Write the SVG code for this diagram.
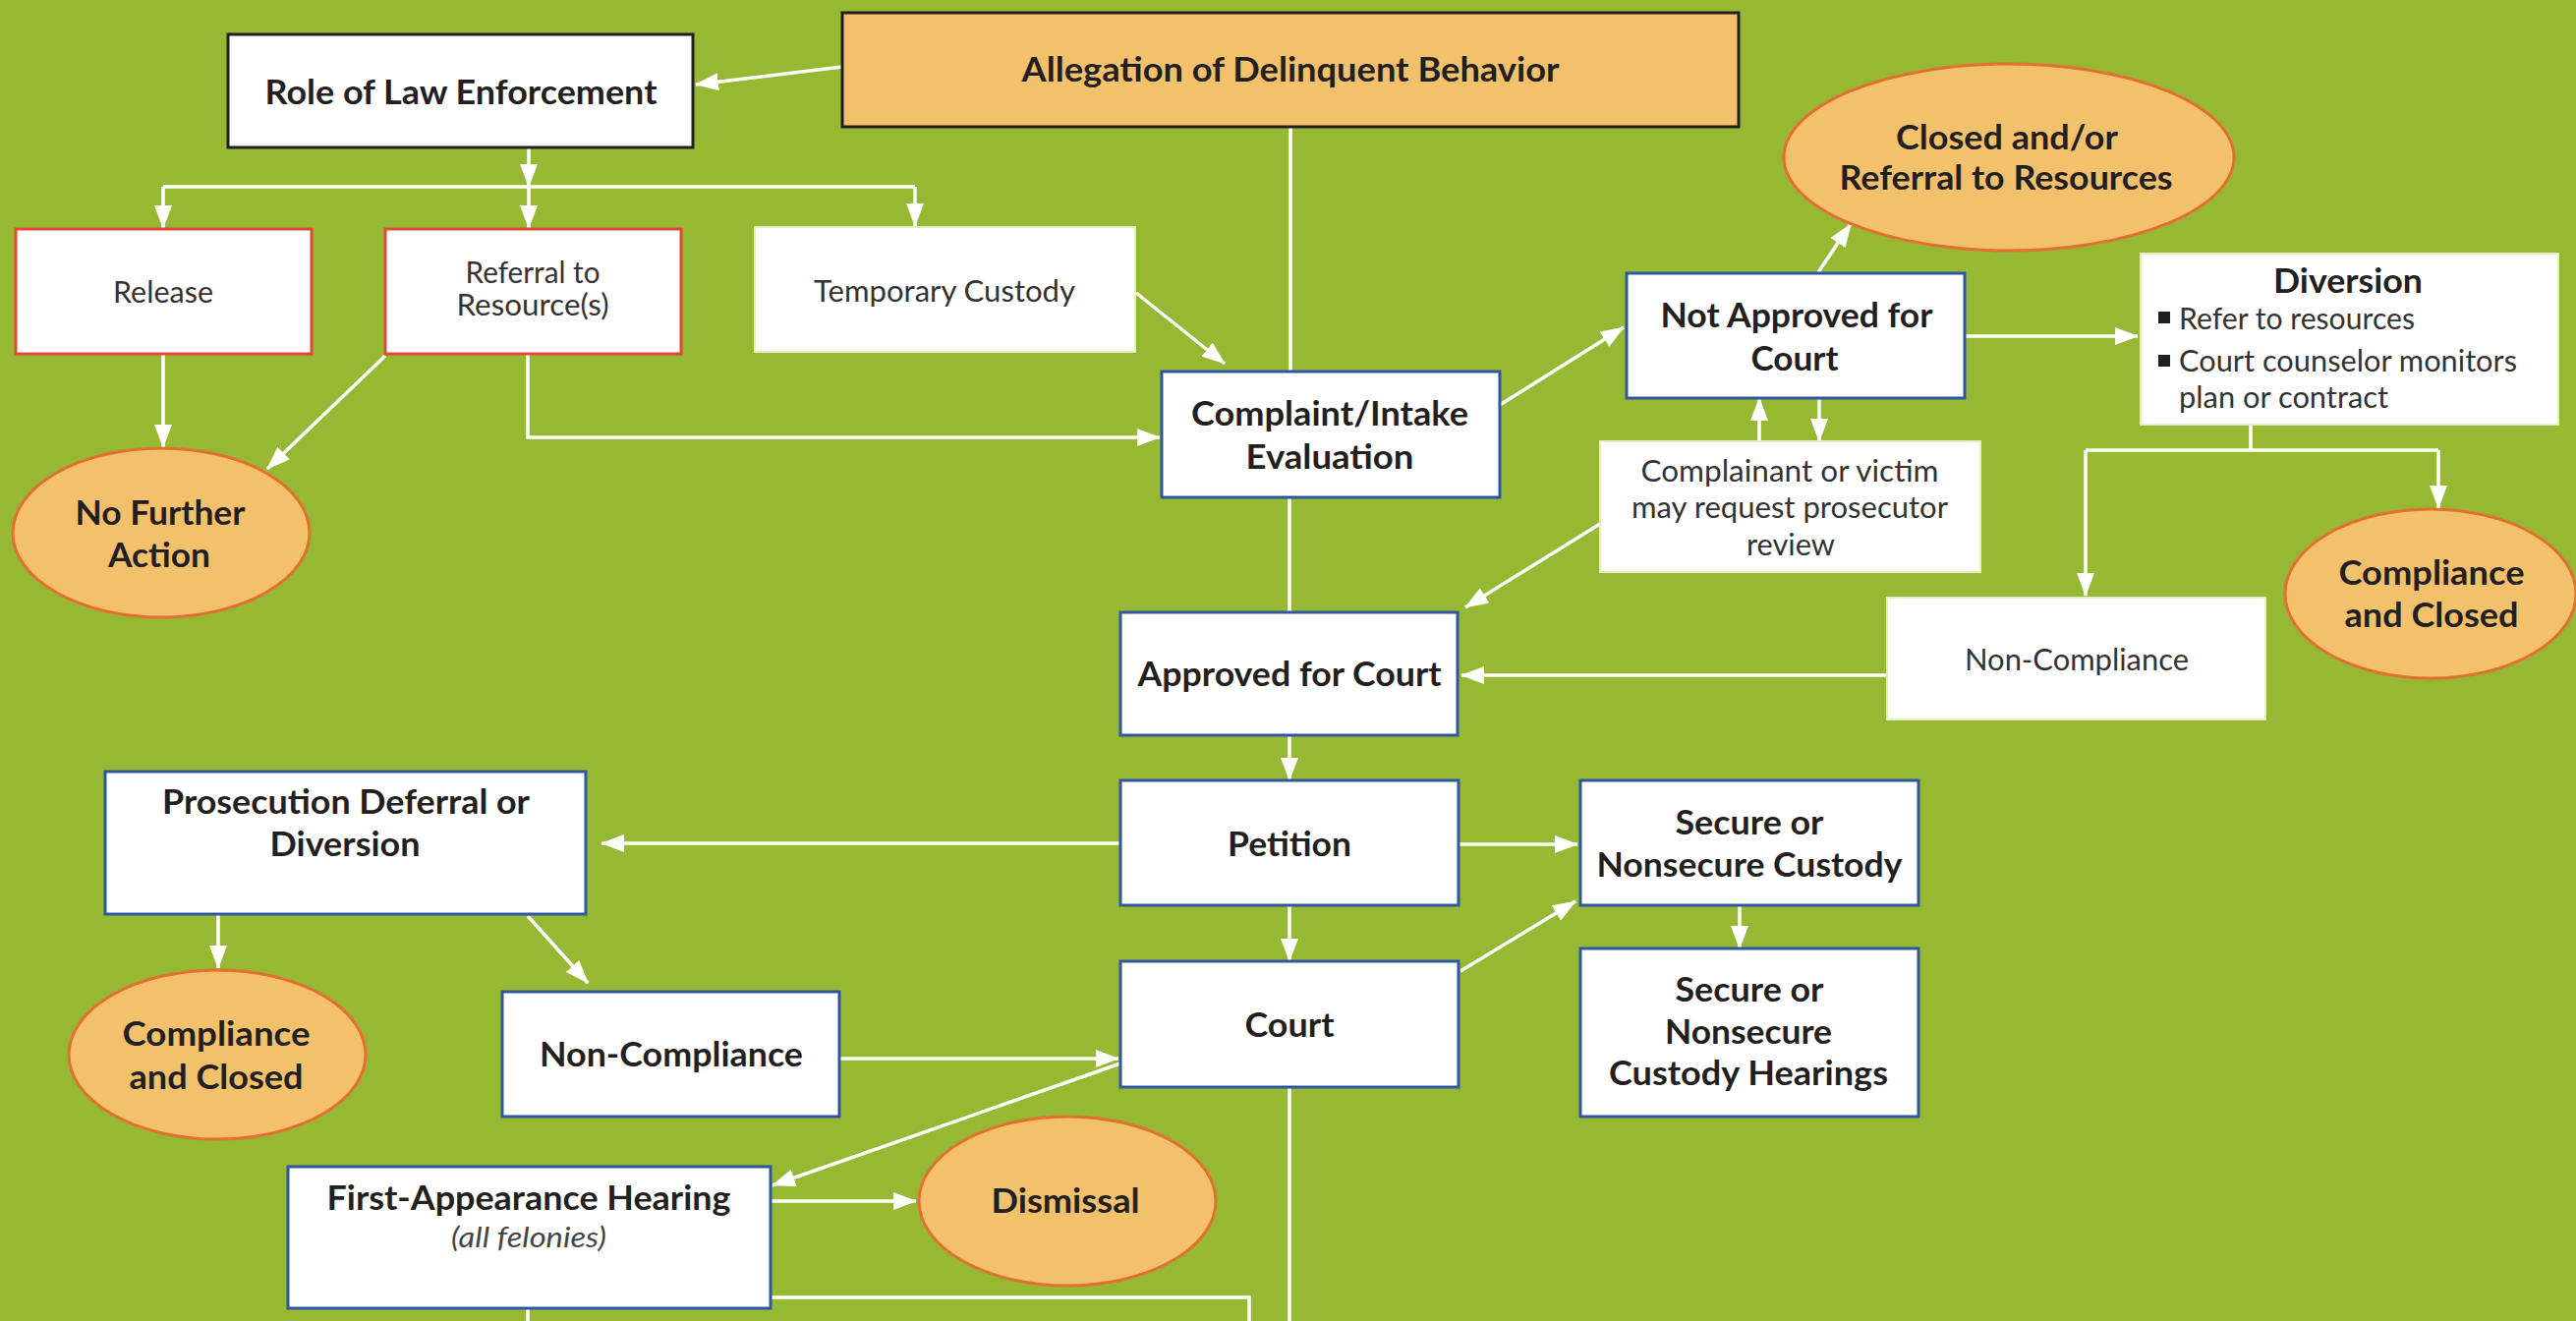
<svg xmlns="http://www.w3.org/2000/svg" width="2621" height="1344" viewBox="0 0 2621 1344">
<style>
.bg{fill:#96b832}
.bdark{fill:#fff;stroke:#231f20;stroke-width:3}
.borg{fill:#f3c06b;stroke:#231f20;stroke-width:3}
.bred{fill:#fff;stroke:#e4473a;stroke-width:3}
.bblue{fill:#fff;stroke:#2f57a0;stroke-width:3}
.bplain{fill:#fff;stroke:#e4eec8;stroke-width:2}
.oval{fill:#f3c06b;stroke:#e2702e;stroke-width:3}
text{font-family:Lato,"Open Sans","Liberation Sans",sans-serif;fill:#231f20;text-anchor:middle}
.tb{font-weight:700;font-size:34px}
.tr{font-weight:400;font-size:31px;fill:#333}
.tl{text-anchor:start}
.ti{font-style:italic;font-size:28px;fill:#444}
.conn{stroke:#fff;stroke-width:3.5;fill:none}
.arr{marker-end:url(#ah)}
</style>
<defs>
<marker id="ah" markerUnits="userSpaceOnUse" markerWidth="24" markerHeight="18" viewBox="0 0 24 18" refX="23" refY="9" orient="auto">
<path d="M0,0 L24,9 L0,18 Z" fill="#fff"/>
</marker>
</defs>
<rect class="bg" x="0" y="0" width="2621" height="1344"/>

<g id="connectors">
<line class="conn arr" x1="857" y1="68" x2="708" y2="86"/>
<line class="conn arr" x1="538" y1="150" x2="538" y2="190"/>
<polyline class="conn" points="166,190 931,190"/>
<line class="conn arr" x1="166" y1="190" x2="166" y2="232"/>
<line class="conn arr" x1="538" y1="190" x2="538" y2="232"/>
<line class="conn arr" x1="931" y1="190" x2="931" y2="230"/>
<line class="conn arr" x1="166" y1="360" x2="166" y2="455"/>
<line class="conn arr" x1="392" y1="362" x2="272" y2="477"/>
<polyline class="conn arr" points="537,360 537,445 1180,445"/>
<line class="conn arr" x1="1156" y1="298" x2="1246" y2="370"/>
<line class="conn" x1="1313" y1="129" x2="1313" y2="378"/>
<line class="conn" x1="1312" y1="506" x2="1312" y2="623"/>
<line class="conn arr" x1="1526" y1="412" x2="1652" y2="333"/>
<line class="conn arr" x1="1850" y1="277" x2="1883" y2="228"/>
<line class="conn arr" x1="1999" y1="342" x2="2175" y2="342"/>
<line class="conn arr" x1="1790" y1="449" x2="1790" y2="405"/>
<line class="conn arr" x1="1851" y1="405" x2="1851" y2="449"/>
<line class="conn arr" x1="1628" y1="533" x2="1491" y2="618"/>
<line class="conn arr" x1="1920" y1="687" x2="1487" y2="687"/>
<line class="conn" x1="2290" y1="432" x2="2290" y2="458"/>
<polyline class="conn" points="2122,458 2481,458"/>
<line class="conn arr" x1="2122" y1="458" x2="2122" y2="606"/>
<line class="conn arr" x1="2481" y1="458" x2="2481" y2="517"/>
<line class="conn arr" x1="1312" y1="748" x2="1312" y2="794"/>
<line class="conn arr" x1="1312" y1="921" x2="1312" y2="978"/>
<line class="conn arr" x1="1484" y1="859" x2="1605" y2="859"/>
<line class="conn arr" x1="1486" y1="988" x2="1603" y2="917"/>
<line class="conn arr" x1="1770" y1="921" x2="1770" y2="965"/>
<line class="conn arr" x1="1140" y1="858" x2="612" y2="858"/>
<line class="conn arr" x1="222" y1="930" x2="222" y2="985"/>
<line class="conn arr" x1="537" y1="932" x2="598" y2="1000"/>
<line class="conn arr" x1="854" y1="1077" x2="1138" y2="1077"/>
<line class="conn arr" x1="1140" y1="1082" x2="786" y2="1206"/>
<line class="conn arr" x1="784" y1="1222" x2="932" y2="1222"/>
<polyline class="conn" points="784,1320 1271,1320 1271,1344"/>
<line class="conn" x1="537" y1="1331" x2="537" y2="1344"/>
<line class="conn" x1="1312" y1="1106" x2="1312" y2="1344"/>
</g>

<g id="allegation">
<rect class="borg" x="857" y="13" width="912" height="116"/>
<text class="tb" x="1313" y="83" textLength="547" lengthAdjust="spacingAndGlyphs">Allegation of Delinquent Behavior</text>
</g>
<g id="role-law-enforcement">
<rect class="bdark" x="232" y="35" width="473" height="115"/>
<text class="tb" x="469" y="106" textLength="399" lengthAdjust="spacingAndGlyphs">Role of Law Enforcement</text>
</g>
<g id="release">
<rect class="bred" x="16" y="233" width="301" height="127"/>
<text class="tr" x="166" y="308" textLength="102" lengthAdjust="spacingAndGlyphs">Release</text>
</g>
<g id="referral-resources">
<rect class="bred" x="392" y="233" width="301" height="127"/>
<text class="tr" x="542" y="288" textLength="137" lengthAdjust="spacingAndGlyphs">Referral to</text>
<text class="tr" x="542" y="321" textLength="155" lengthAdjust="spacingAndGlyphs">Resource(s)</text>
</g>
<g id="temporary-custody">
<rect class="bplain" x="768" y="231" width="387" height="127"/>
<text class="tr" x="961" y="307" textLength="266" lengthAdjust="spacingAndGlyphs">Temporary Custody</text>
</g>
<g id="no-further-action">
<ellipse class="oval" cx="164" cy="542" rx="151" ry="86"/>
<text class="tb" x="163" y="534" textLength="173" lengthAdjust="spacingAndGlyphs">No Further</text>
<text class="tb" x="162" y="577" textLength="104" lengthAdjust="spacingAndGlyphs">Action</text>
</g>
<g id="complaint-intake">
<rect class="bblue" x="1182" y="378" width="344" height="128"/>
<text class="tb" x="1353" y="433" textLength="282" lengthAdjust="spacingAndGlyphs">Complaint/Intake</text>
<text class="tb" x="1353" y="477" textLength="171" lengthAdjust="spacingAndGlyphs">Evaluation</text>
</g>
<g id="not-approved">
<rect class="bblue" x="1655" y="278" width="344" height="127"/>
<text class="tb" x="1828" y="333" textLength="277" lengthAdjust="spacingAndGlyphs">Not Approved for</text>
<text class="tb" x="1826" y="377" textLength="89" lengthAdjust="spacingAndGlyphs">Court</text>
</g>
<g id="closed-referral">
<ellipse class="oval" cx="2044" cy="160" rx="229" ry="95"/>
<text class="tb" x="2042" y="152" textLength="226" lengthAdjust="spacingAndGlyphs">Closed and/or</text>
<text class="tb" x="2041" y="193" textLength="339" lengthAdjust="spacingAndGlyphs">Referral to Resources</text>
</g>
<g id="diversion">
<rect class="bplain" x="2178" y="258" width="425" height="174"/>
<text class="tb" x="2389" y="298" textLength="152" lengthAdjust="spacingAndGlyphs">Diversion</text>
<rect x="2196" y="317" width="12" height="12" fill="#231f20"/>
<text class="tr tl" x="2217" y="335" textLength="240" lengthAdjust="spacingAndGlyphs">Refer to resources</text>
<rect x="2196" y="361" width="12" height="12" fill="#231f20"/>
<text class="tr tl" x="2217" y="378" textLength="344" lengthAdjust="spacingAndGlyphs">Court counselor monitors</text>
<text class="tr tl" x="2217" y="415" textLength="213" lengthAdjust="spacingAndGlyphs">plan or contract</text>
</g>
<g id="prosecutor-review">
<rect class="bplain" x="1628" y="449" width="387" height="133"/>
<text class="tr" x="1821" y="490" textLength="303" lengthAdjust="spacingAndGlyphs">Complainant or victim</text>
<text class="tr" x="1821" y="527" textLength="322" lengthAdjust="spacingAndGlyphs">may request prosecutor</text>
<text class="tr" x="1822" y="565" textLength="90" lengthAdjust="spacingAndGlyphs">review</text>
</g>
<g id="approved">
<rect class="bblue" x="1140" y="623" width="343" height="125"/>
<text class="tb" x="1312" y="698" textLength="309" lengthAdjust="spacingAndGlyphs">Approved for Court</text>
</g>
<g id="non-compliance-diversion">
<rect class="bplain" x="1920" y="608" width="385" height="124"/>
<text class="tr" x="2113" y="682" textLength="228" lengthAdjust="spacingAndGlyphs">Non-Compliance</text>
</g>
<g id="compliance-closed-right">
<ellipse class="oval" cx="2473" cy="604" rx="148" ry="86"/>
<text class="tb" x="2474" y="595" textLength="189" lengthAdjust="spacingAndGlyphs">Compliance</text>
<text class="tb" x="2474" y="638" textLength="177" lengthAdjust="spacingAndGlyphs">and Closed</text>
</g>
<g id="petition">
<rect class="bblue" x="1140" y="794" width="344" height="127"/>
<text class="tb" x="1312" y="871" textLength="126" lengthAdjust="spacingAndGlyphs">Petition</text>
</g>
<g id="court">
<rect class="bblue" x="1140" y="978" width="344" height="128"/>
<text class="tb" x="1312" y="1055" textLength="91" lengthAdjust="spacingAndGlyphs">Court</text>
</g>
<g id="secure-custody">
<rect class="bblue" x="1608" y="794" width="344" height="127"/>
<text class="tb" x="1780" y="849" textLength="151" lengthAdjust="spacingAndGlyphs">Secure or</text>
<text class="tb" x="1780" y="892" textLength="311" lengthAdjust="spacingAndGlyphs">Nonsecure Custody</text>
</g>
<g id="custody-hearings">
<rect class="bblue" x="1608" y="965" width="344" height="171"/>
<text class="tb" x="1780" y="1019" textLength="151" lengthAdjust="spacingAndGlyphs">Secure or</text>
<text class="tb" x="1779" y="1062" textLength="170" lengthAdjust="spacingAndGlyphs">Nonsecure</text>
<text class="tb" x="1779" y="1104" textLength="284" lengthAdjust="spacingAndGlyphs">Custody Hearings</text>
</g>
<g id="prosecution-deferral">
<rect class="bblue" x="107" y="785" width="489" height="145"/>
<text class="tb" x="352" y="828" textLength="374" lengthAdjust="spacingAndGlyphs">Prosecution Deferral or</text>
<text class="tb" x="351" y="871" textLength="153" lengthAdjust="spacingAndGlyphs">Diversion</text>
</g>
<g id="compliance-closed-left">
<ellipse class="oval" cx="221" cy="1073" rx="151" ry="86"/>
<text class="tb" x="220" y="1064" textLength="191" lengthAdjust="spacingAndGlyphs">Compliance</text>
<text class="tb" x="220" y="1108" textLength="177" lengthAdjust="spacingAndGlyphs">and Closed</text>
</g>
<g id="non-compliance-prosecution">
<rect class="bblue" x="511" y="1009" width="343" height="127"/>
<text class="tb" x="683" y="1085" textLength="268" lengthAdjust="spacingAndGlyphs">Non-Compliance</text>
</g>
<g id="first-appearance">
<rect class="bblue" x="293" y="1187" width="491" height="144"/>
<text class="tb" x="538" y="1231" textLength="411" lengthAdjust="spacingAndGlyphs">First-Appearance Hearing</text>
<text class="tr ti" x="538" y="1269" textLength="158" lengthAdjust="spacingAndGlyphs">(all felonies)</text>
</g>
<g id="dismissal">
<ellipse class="oval" cx="1086" cy="1222" rx="151" ry="86"/>
<text class="tb" x="1084" y="1234" textLength="151" lengthAdjust="spacingAndGlyphs">Dismissal</text>
</g>
</svg>
